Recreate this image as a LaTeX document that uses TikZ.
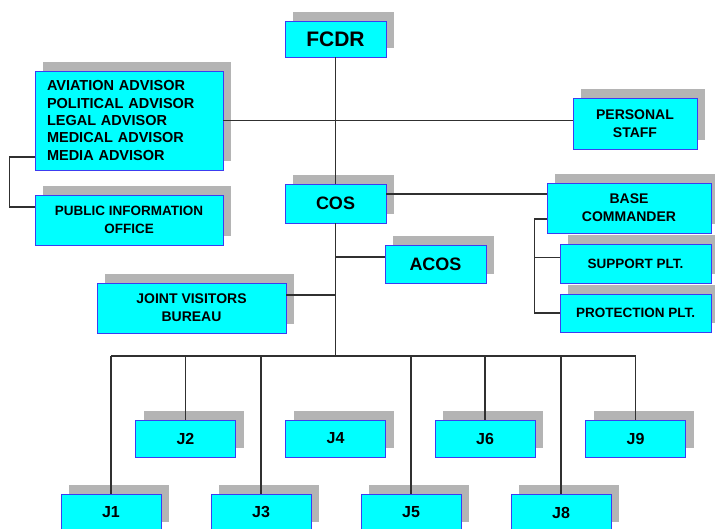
\documentclass[tikz,border=0pt]{standalone}
\usepackage{fontspec}
\setmainfont{Liberation Sans}
\usetikzlibrary{shadows}
\definecolor{orgcyan}{HTML}{00FFFF}
\definecolor{orgblue}{HTML}{3C3CF0}
\definecolor{orgline}{HTML}{303030}
\definecolor{orgshade}{HTML}{B4B4B4}
\begin{document}
\begin{tikzpicture}[x=1pt,y=-1pt,
  box/.style={draw=orgblue,fill=orgcyan,line width=0.8pt,inner sep=0pt,align=center,
    font=\bfseries\fontsize{14}{18}\selectfont,
    drop shadow={shadow xshift=8pt,shadow yshift=9pt,opacity=1,fill=orgshade,draw=none}},
  jbox/.style={box,minimum width=100pt,minimum height=37pt,font=\bfseries\fontsize{16}{18}\selectfont},
  link/.style={draw=orgline,line width=1.2pt}]
  \useasboundingbox (0,0) rectangle (715,529);
  \node[box,minimum width=101pt,minimum height=36pt,font=\bfseries\fontsize{21}{24}\selectfont] (fcdr) at (335.5,39) {FCDR};
  \node[box,minimum width=101pt,minimum height=39pt,font=\bfseries\fontsize{18}{22}\selectfont] (cos) at (335.5,203.5) {COS};
  \node[box,text width=164pt,inner xsep=12pt,minimum height=99pt,align=left,font=\bfseries\fontsize{14.5}{17.3}\selectfont] (adv) at (129,120.5)
    {AVIATION ADVISOR\\POLITICAL ADVISOR\\LEGAL ADVISOR\\MEDICAL ADVISOR\\MEDIA ADVISOR};
  \node[box,minimum width=188pt,minimum height=50pt,font=\bfseries\fontsize{13.5}{17.3}\selectfont] (pio) at (129,220) {PUBLIC INFORMATION\\OFFICE};
  \node[box,minimum width=124pt,minimum height=51pt] (staff) at (635,123.5) {PERSONAL\\STAFF};
  \node[box,minimum width=164pt,minimum height=50pt] (base) at (629,208) {BASE\\COMMANDER};
  \node[box,minimum width=151pt,minimum height=39pt,font=\bfseries\fontsize{13.5}{17}\selectfont] (sup) at (635.5,263.5) {SUPPORT PLT.};
  \node[box,minimum width=151pt,minimum height=38pt,font=\bfseries\fontsize{13.5}{17}\selectfont] (prot) at (635.5,313) {PROTECTION PLT.};
  \node[box,minimum width=101pt,minimum height=38pt,font=\bfseries\fontsize{18}{22}\selectfont] (acos) at (435.5,264) {ACOS};
  \node[box,minimum width=189pt,minimum height=50pt] (jvb) at (191.5,308) {JOINT VISITORS\\BUREAU};
  \foreach \n/\x in {2/185.5,4/335.5,6/485,9/635.5}
    \node[jbox] (j\n) at (\x,438.5) {J\n};
  \foreach \n/\x in {1/111,3/261,5/411,8/561}
    \node[jbox] (j\n) at (\x,512.5) {J\n};
  \coordinate (bus) at (335.5,356);
  \draw[link] (fcdr.south) -- (cos.north);
  \draw[link] (cos.south) -- (bus);
  \draw[link] (adv.east) -- (adv.east -| staff.west);
  \draw[link] ([yshift=-36.5pt]adv.west) -- ++(-25,0) |- ([yshift=13pt]pio.west);
  \coordinate (cosr) at ([yshift=9.5pt]cos.east);
  \draw[link] (cosr) -- (cosr -| base.west);
  \coordinate (btop) at ([xshift=-12pt,yshift=-11pt]base.west);
  \draw[link] ([yshift=-11pt]base.west) -- (btop) |- (prot.west);
  \coordinate (supl) at ([yshift=6pt]sup.west);
  \draw[link] (btop |- supl) -- (supl);
  \coordinate (acosl) at ([yshift=7pt]acos.west);
  \draw[link] (acosl -| bus) -- (acosl);
  \coordinate (jvbl) at ([yshift=13pt]jvb.east);
  \draw[link] (jvbl) -- (jvbl -| bus);
  \draw[link] (bus -| j1.north) -- (bus -| j9.north);
  \foreach \n in {1,2,3,5,6,8,9}
    \draw[link] (bus -| j\n.north) -- (j\n.north);
\end{tikzpicture}
\end{document}
